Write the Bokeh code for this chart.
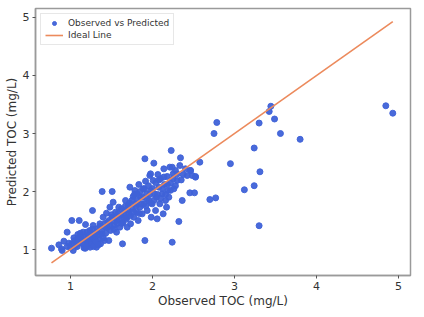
from bokeh.plotting import figure
from bokeh.models import Range1d, FixedTicker, Legend, LegendItem, ColumnDataSource
from bokeh.embed import file_html
from bokeh.resources import INLINE

observed = [
    0.768, 0.858, 0.898, 0.919, 0.890, 0.959, 0.959, 0.980, 1.000, 1.016, 1.033, 1.041, 1.061, 1.073,
    1.089, 1.106, 1.114, 1.130, 1.154, 1.163, 1.183, 1.195, 1.211, 1.224, 1.236, 1.252, 1.268, 1.276,
    1.285, 1.305, 1.317, 1.325, 1.346, 1.358, 1.366, 1.386, 1.386, 1.398, 1.415, 1.427, 1.439, 1.455,
    1.467, 1.480, 1.488, 1.508, 1.508, 1.520, 1.528, 1.549, 1.561, 1.569, 1.589, 1.602, 1.618, 1.634,
    1.642, 1.659, 1.671, 1.683, 1.691, 1.703, 1.711, 1.724, 1.732, 1.752, 1.764, 1.772, 1.785, 1.793,
    1.805, 1.813, 1.825, 1.833, 1.846, 1.854, 1.874, 1.886, 1.894, 1.907, 1.915, 1.927, 1.935, 1.955,
    1.967, 1.976, 1.984, 1.996, 2.008, 2.016, 2.024, 2.037, 2.049, 2.057, 2.065, 2.077, 2.089, 2.098,
    2.118, 2.130, 2.138, 2.146, 2.159, 2.171, 2.179, 2.187, 2.199, 2.211, 2.220, 2.240, 2.252, 2.260,
    2.280, 2.301, 2.321, 2.333, 2.362, 2.374, 2.402, 2.423, 2.455, 2.463, 2.484, 2.512, 2.524, 2.577,
    2.699,
    1.907, 2.228, 2.341, 1.976, 2.240, 2.463, 2.524,
    1.02, 1.05, 1.08, 1.10, 1.12, 1.15, 1.18, 1.20, 1.22, 1.25, 1.27, 1.28, 1.30, 1.32, 1.33, 1.35,
    1.36, 1.38, 1.40, 1.42, 1.43, 1.45, 1.47, 1.48, 1.50, 1.52, 1.53, 1.55, 1.57, 1.58, 1.60, 1.62,
    1.63, 1.65, 1.67, 1.68, 1.70, 1.72, 1.73, 1.75, 1.77, 1.78, 1.80, 1.82, 1.84, 1.85, 1.87, 1.88,
    1.90, 1.92, 1.93, 1.95, 1.97, 1.98, 2.00, 2.02, 2.04, 2.06, 2.08, 2.10, 2.12, 2.14, 2.16, 2.18,
    2.22, 2.25, 2.28, 2.30, 2.35,
    1.18, 1.21, 1.24, 1.26, 1.29, 1.31, 1.23, 1.19, 1.27, 1.34, 1.14, 1.09,
    4.845, 4.930, 3.443, 3.423, 3.488, 3.300, 3.560, 3.800, 3.240, 2.784, 2.750,
    2.950, 3.310, 3.240, 3.120, 3.300, 2.770,
]
predicted = [
    1.023, 1.080, 0.983, 1.144, 1.011, 1.299, 1.052, 1.109, 1.029, 1.500, 0.983, 1.201, 1.069, 1.155,
    1.259, 1.500, 1.109, 1.213, 1.299, 1.029, 1.431, 1.155, 1.241, 1.069, 1.328, 1.201, 1.672, 1.414,
    1.126, 1.270, 1.040, 1.356, 1.184, 1.443, 1.098, 2.000, 1.270, 1.557, 1.155, 1.385, 1.626, 1.471,
    1.155, 1.730, 1.328, 2.000, 1.557, 1.816, 1.414, 1.644, 1.299, 1.500, 1.730, 1.385, 1.586, 1.098,
    1.471, 1.672, 1.845, 1.529, 1.385, 1.759, 1.615, 2.075, 1.443, 1.701, 1.914, 1.557, 2.017, 1.787,
    1.644, 1.960, 1.500, 2.121, 1.730, 1.902, 1.615, 2.046, 1.787, 1.155, 2.178, 1.960, 1.672, 1.845,
    2.276, 2.017, 1.557, 1.787, 2.190, 2.489, 1.960, 1.672, 1.902, 1.529, 2.293, 2.075, 1.787, 2.218,
    1.960, 1.615, 2.391, 2.121, 1.845, 1.730, 2.259, 2.017, 1.902, 2.420, 2.144, 1.126, 2.305, 2.046,
    2.362, 2.190, 1.483, 2.448, 1.845, 2.293, 2.391, 2.276, 1.977, 2.362, 2.276, 1.977, 2.247, 2.506,
    1.862,
    2.564, 2.707, 2.581, 2.305, 2.419, 2.362, 2.259,
    1.10, 1.15, 1.05, 1.20, 1.28, 1.10, 1.22, 1.30, 1.15, 1.25, 1.35, 1.05, 1.18, 1.30, 1.12, 1.25,
    1.40, 1.32, 1.20, 1.45, 1.28, 1.38, 1.50, 1.42, 1.60, 1.50, 1.35, 1.55, 1.45, 1.62, 1.52, 1.70,
    1.45, 1.60, 1.75, 1.55, 1.68, 1.80, 1.58, 1.85, 1.65, 1.95, 1.75, 1.85, 1.62, 2.00, 1.78, 1.90,
    2.05, 1.75, 1.88, 2.10, 1.95, 1.80, 2.05, 1.85, 2.15, 1.95, 2.20, 1.88, 2.05, 2.25, 1.95, 2.12,
    2.02, 2.22, 2.10, 2.30, 2.20,
    1.02, 1.08, 1.04, 1.12, 1.07, 1.14, 1.18, 1.06, 1.22, 1.08, 1.16, 1.12,
    3.478, 3.350, 3.470, 3.380, 3.250, 3.180, 3.000, 2.900, 2.750, 3.190, 3.000,
    2.480, 2.340, 2.100, 2.030, 1.410, 1.890,
]

ideal = [min(observed), max(observed)]

x_ticks = [1, 2, 3, 4, 5]
y_ticks = [1, 2, 3, 4, 5]

p = figure(width=424, height=317, output_backend="svg", toolbar_location=None,
           x_range=Range1d(0.573, 5.146), y_range=Range1d(0.552, 5.155),
           min_border_left=35, min_border_right=14, min_border_top=8, min_border_bottom=42)

src = ColumnDataSource(dict(x=observed, y=predicted))
pts = p.scatter("x", "y", source=src, size=6, marker="circle", fill_color="#3f62d8",
                line_color="#3f62d8", fill_alpha=0.95, line_alpha=0.95)
ln = p.line(ideal, ideal, line_color="#ec8a5c", line_width=1.6)

p.xgrid.visible = False
p.ygrid.visible = False
p.outline_line_color = "#9a9a9a"
p.outline_line_width = 1.5

for ax, ticks in ((p.xaxis, x_ticks), (p.yaxis, y_ticks)):
    ax.ticker = FixedTicker(ticks=ticks)
    ax.minor_tick_line_color = None
    ax.axis_line_color = "#9a9a9a"
    ax.axis_line_width = 1.5
    ax.major_tick_line_color = "#555555"
    ax.major_tick_out = 3
    ax.major_tick_in = 0
    ax.major_label_text_font = "DejaVu Sans"
    ax.major_label_text_font_size = "11px"
    ax.major_label_text_color = "#333333"
    ax.major_label_standoff = 3
    ax.axis_label_text_font = "DejaVu Sans"
    ax.axis_label_text_font_size = "12px"
    ax.axis_label_text_font_style = "normal"
    ax.axis_label_text_color = "#333333"
    ax.axis_label_standoff = 1

p.xaxis.axis_label = "Observed TOC (mg/L)"
p.yaxis.axis_label = "Predicted TOC (mg/L)"

legend = Legend(items=[LegendItem(label="Observed vs Predicted", renderers=[pts]),
                       LegendItem(label="Ideal Line", renderers=[ln])],
                location="top_left")
legend.label_text_font = "DejaVu Sans"
legend.label_text_font_size = "9px"
legend.label_text_color = "#333333"
legend.glyph_width = 18
legend.glyph_height = 10
legend.label_height = 10
legend.spacing = 2
legend.padding = 4
legend.margin = 5
legend.border_line_color = "#d0d0d0"
legend.background_fill_alpha = 0.85
p.add_layout(legend)

open("out.html", "w").write(file_html(p, INLINE))
